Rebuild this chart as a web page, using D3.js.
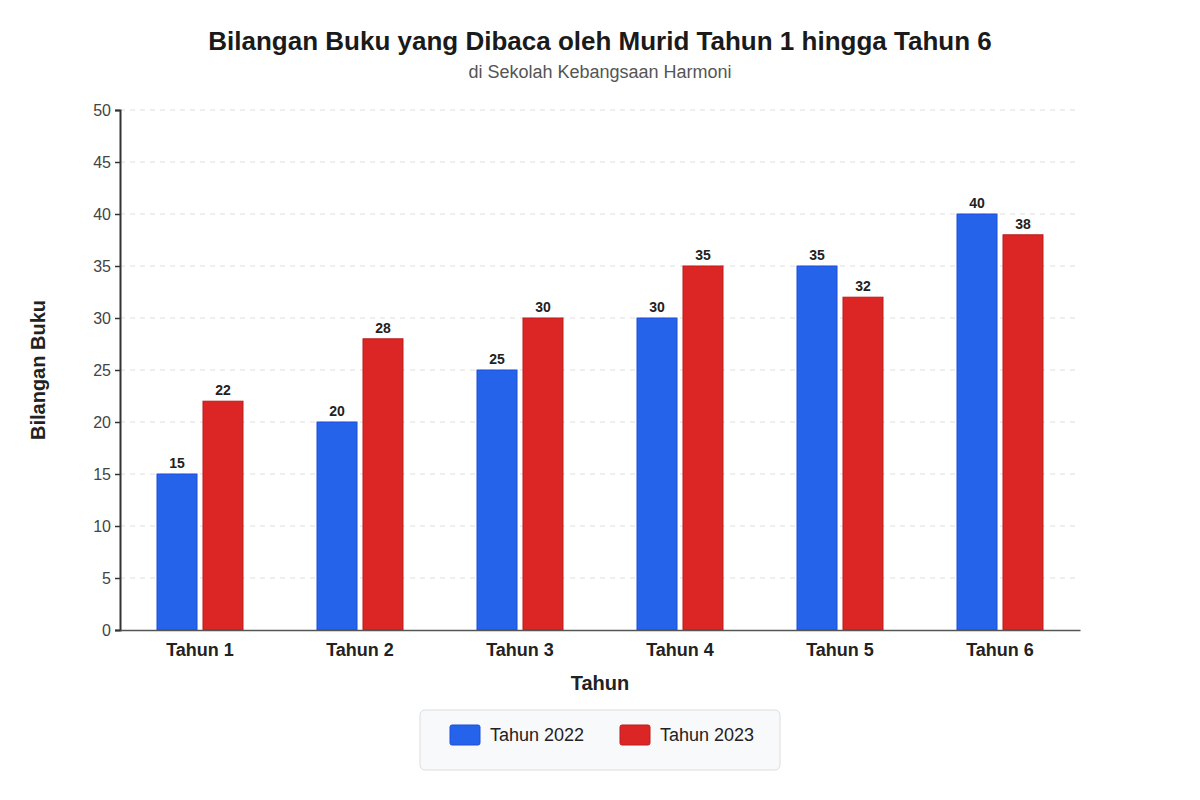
<!DOCTYPE html>
<html>
<head>
<meta charset="utf-8">
<script src="https://cdn.jsdelivr.net/npm/d3@7"></script>
<style>
  body { margin: 0; background: #ffffff; }
  text { font-family: "Liberation Sans", Arial, sans-serif; }
</style>
</head>
<body>
<div id="chart"></div>
<script>
var categories = ["Tahun 1", "Tahun 2", "Tahun 3", "Tahun 4", "Tahun 5", "Tahun 6"];
var seriesNames = ["Tahun 2022", "Tahun 2023"];
var values2022 = [15, 20, 25, 30, 35, 40];
var values2023 = [22, 28, 30, 35, 32, 38];
var yTicks = [0, 5, 10, 15, 20, 25, 30, 35, 40, 45, 50];

var width = 1200;
var height = 800;
var margin = {top: 110, right: 120, bottom: 170, left: 120};
var innerW = width - margin.left - margin.right;
var innerH = height - margin.top - margin.bottom;

var fills = ["#2563eb", "#dc2626"];
var strokes = ["#1d4ed8", "#b91c1c"];

var rows = categories.map(function(c, i){
    return {cat: c, vals: [values2022[i], values2023[i]]};
});

var svg = d3.select("#chart").append("svg")
            .attr("width", width)
            .attr("height", height);

svg.append("text")
    .attr("x", width/2).attr("y", 50)
    .attr("text-anchor", "middle")
    .style("font-size", "26px").style("font-weight", "bold").style("fill", "#1a1a1a")
    .text("Bilangan Buku yang Dibaca oleh Murid Tahun 1 hingga Tahun 6");

svg.append("text")
    .attr("x", width/2).attr("y", 78)
    .attr("text-anchor", "middle")
    .style("font-size", "18px").style("fill", "#555")
    .text("di Sekolah Kebangsaan Harmoni");

var g = svg.append("g").attr("transform", "translate(" + margin.left + "," + margin.top + ")");

var x0 = d3.scaleBand()
           .domain(categories)
           .range([0, innerW])
           .paddingInner(0.4625)
           .paddingOuter(0.23125);

var x1 = d3.scaleBand()
           .domain([0, 1])
           .range([0, x0.bandwidth()])
           .paddingInner(0.13);

var yScale = d3.scaleLinear().domain([0, 50]).range([innerH, 0]);

// grid
g.selectAll(".grid").data(yTicks.slice(1)).enter().append("line")
    .attr("x1", 0).attr("x2", innerW - 4)
    .attr("y1", function(d){ return yScale(d); })
    .attr("y2", function(d){ return yScale(d); })
    .style("stroke", "#dddddd").style("stroke-width", 1)
    .style("stroke-dasharray", "5,5");

// bars
var groups = g.selectAll(".grp").data(rows).enter().append("g")
    .attr("transform", function(d){ return "translate(" + x0(d.cat) + ",0)"; });

groups.selectAll("rect").data(function(d){ return d.vals; }).enter().append("rect")
    .attr("x", function(d, i){ return x1(i); })
    .attr("y", function(d){ return yScale(d); })
    .attr("width", x1.bandwidth())
    .attr("height", function(d){ return innerH - yScale(d); })
    .style("fill", function(d, i){ return fills[i]; })
    .style("stroke", function(d, i){ return strokes[i]; })
    .style("stroke-width", 1);

groups.selectAll(".val").data(function(d){ return d.vals; }).enter().append("text")
    .attr("x", function(d, i){ return x1(i) + x1.bandwidth()/2; })
    .attr("y", function(d){ return yScale(d) - 6; })
    .attr("text-anchor", "middle")
    .style("font-size", "14px").style("font-weight", "bold").style("fill", "#222")
    .text(function(d){ return d; });

// axes
var yAxis = d3.axisLeft(yScale).tickValues(yTicks).tickSize(5).tickPadding(4);
var yG = g.append("g").call(yAxis);
yG.select(".domain").style("stroke", "#333").style("stroke-width", 2);
yG.selectAll(".tick line").style("stroke", "#333").style("stroke-width", 1.5);
yG.selectAll(".tick text").style("font-size", "16px").style("fill", "#444")
    .style("font-family", "Liberation Sans, Arial, sans-serif");

var xAxis = d3.axisBottom(x0).tickSize(0).tickPadding(13);
var xG = g.append("g").attr("transform", "translate(0," + innerH + ")").call(xAxis);
xG.select(".domain").style("stroke", "#555").style("stroke-width", 1.5);
xG.selectAll(".tick text").style("font-size", "18px").style("font-weight", "bold").style("fill", "#222")
    .style("font-family", "Liberation Sans, Arial, sans-serif");

// axis titles
svg.append("text")
    .attr("x", margin.left + innerW/2).attr("y", 690)
    .attr("text-anchor", "middle")
    .style("font-size", "20px").style("font-weight", "bold").style("fill", "#222")
    .text("Tahun");

svg.append("text")
    .attr("transform", "translate(45," + (margin.top + innerH/2) + ") rotate(-90)")
    .attr("text-anchor", "middle")
    .style("font-size", "20px").style("font-weight", "bold").style("fill", "#222")
    .text("Bilangan Buku");

// legend
var legend = svg.append("g").attr("transform", "translate(420,710)");
legend.append("rect")
    .attr("width", 360).attr("height", 60).attr("rx", 5)
    .style("fill", "#f8f9fb").style("stroke", "#dddddd").style("stroke-width", 1);

var items = legend.selectAll(".item").data(seriesNames).enter().append("g")
    .attr("transform", function(d, i){ return "translate(" + (30 + i*170) + ",15)"; });
items.append("rect")
    .attr("width", 30).attr("height", 20).attr("rx", 2)
    .style("fill", function(d, i){ return fills[i]; })
    .style("stroke", function(d, i){ return strokes[i]; });
items.append("text")
    .attr("x", 40).attr("y", 16)
    .style("font-size", "18px").style("fill", "#222")
    .text(function(d){ return d; });
</script>
</body>
</html>
